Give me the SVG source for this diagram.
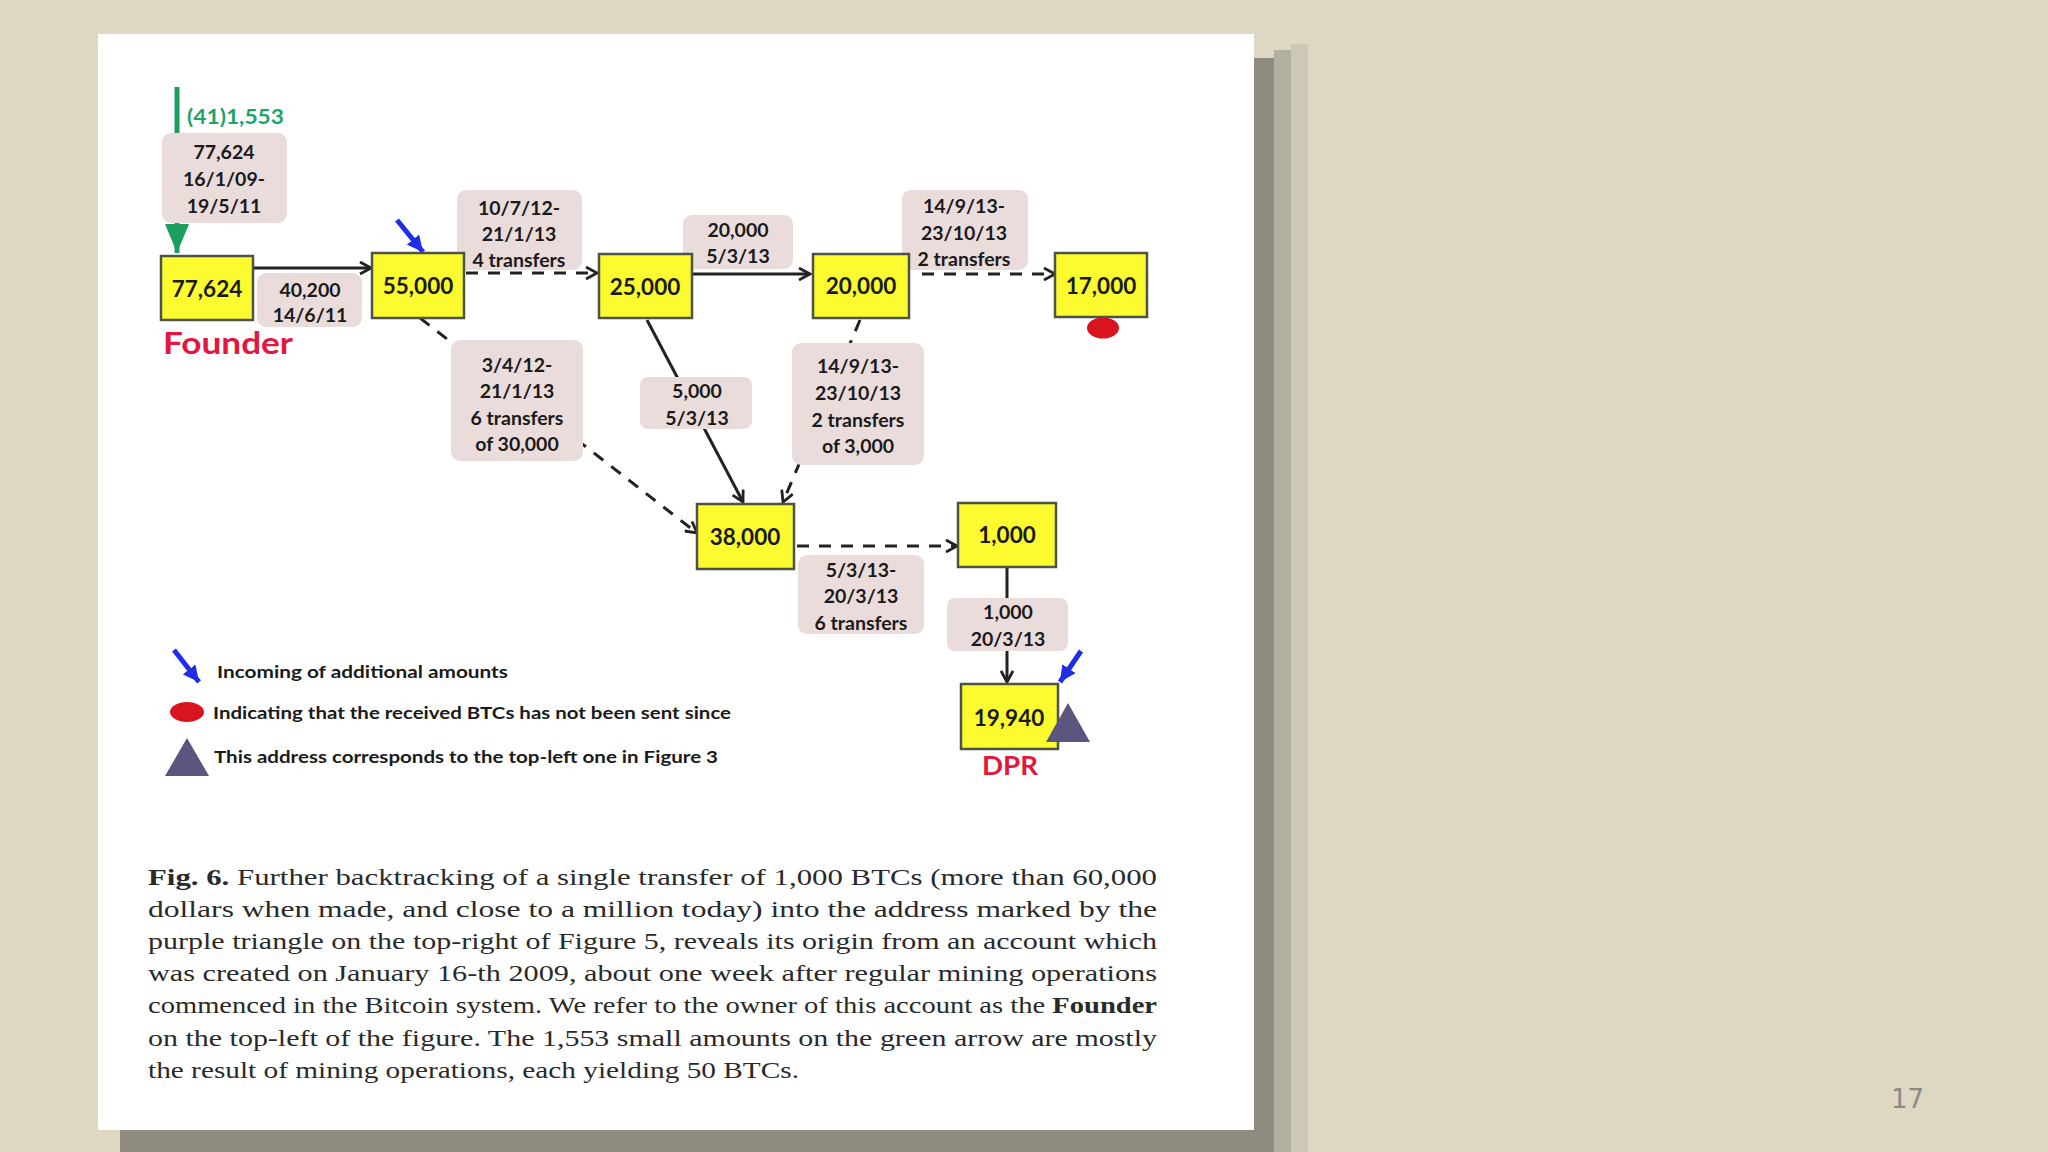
<svg xmlns="http://www.w3.org/2000/svg" width="2048" height="1152" viewBox="0 0 2048 1152">
<style>
.nd{fill:#fbfb30;stroke:#4d5347;stroke-width:2.5}
.nt{font-family:Lato,"Liberation Sans",sans-serif;font-weight:700;font-size:22.5px;fill:#1a1a1a;text-anchor:middle}
.lb{fill:#ebdcdc}
.lt{font-family:Lato,"Liberation Sans",sans-serif;font-weight:700;font-size:19.5px;fill:#1a1a1a;text-anchor:middle}
.sol{fill:none;stroke:#222;stroke-width:3;marker-end:url(#open)}
.dsh{fill:none;stroke:#222;stroke-width:3;stroke-dasharray:12 10;marker-end:url(#open)}
.blu{fill:none;stroke:#1f2ee6;stroke-width:5;marker-end:url(#bluehead)}
.red{font-family:Lato,"Liberation Sans",sans-serif;font-weight:700;fill:#e3173e}
.lg{font-family:Lato,"Liberation Sans",sans-serif;font-weight:700;font-size:17px;fill:#1a1a1a}
.cap{font-family:"Liberation Serif",serif;font-size:24px;fill:#2a2a2a}
</style>
<defs>
<marker id="open" viewBox="0 0 14 14" refX="12" refY="7" markerWidth="14" markerHeight="14" markerUnits="userSpaceOnUse" orient="auto">
<path d="M1,1 L12,7 L1,13" fill="none" stroke="#222" stroke-width="2.8"/>
</marker>
<marker id="greenhead" viewBox="0 0 29 24" refX="29" refY="12" markerWidth="29" markerHeight="24" markerUnits="userSpaceOnUse" orient="auto">
<path d="M0,0 L29,12 L0,24 z" fill="#1c9f5e"/>
</marker>
<marker id="bluehead" viewBox="0 0 16 16" refX="16" refY="8" markerWidth="16" markerHeight="16" markerUnits="userSpaceOnUse" orient="auto">
<path d="M0,0 L16,8 L0,16 z" fill="#1f2ee6"/>
</marker>
</defs>

<rect x="0" y="0" width="2048" height="1152" fill="#ddd7c4"/>
<!-- panel shadow -->
<rect x="1291" y="44" width="17" height="1108" fill="#ccc8b6"/>
<rect x="1274" y="50" width="17" height="1102" fill="#b3b0a0"/>
<rect x="1254" y="58" width="20" height="1094" fill="#8f8c7f"/>
<rect x="120" y="1130" width="1134" height="22" fill="#8f8c7f"/>
<rect x="98" y="34" width="1156" height="1096" fill="#ffffff"/>

<text x="1891" y="1108" font-family="'DejaVu Sans',sans-serif" font-size="26" fill="#8c8a80">17</text>

<!-- connectors -->
<g id="connectors">
<line x1="177" y1="87" x2="177" y2="253" stroke="#1c9f5e" stroke-width="5" marker-end="url(#greenhead)"/>
<line class="sol" x1="253" y1="268" x2="371" y2="268"/>
<line class="dsh" x1="466" y1="273" x2="597" y2="273"/>
<line class="sol" x1="692" y1="274" x2="810" y2="274"/>
<line class="dsh" x1="922" y1="274" x2="1055" y2="274"/>
<line class="dsh" x1="420" y1="318" x2="697" y2="533"/>
<line class="sol" x1="647" y1="320" x2="743" y2="502"/>
<line class="dsh" x1="860" y1="320" x2="783" y2="502"/>
<line class="dsh" x1="797" y1="546" x2="957" y2="546"/>
<line class="sol" x1="1007" y1="567" x2="1007" y2="682"/>
<line class="blu" x1="397" y1="220" x2="423" y2="252"/>
<line class="blu" x1="1081" y1="651" x2="1060" y2="682"/>
</g>

<!-- connector labels -->
<g id="labels">
<rect class="lb" x="162" y="133" width="125" height="90" rx="9"/>
<text class="lt" x="224" y="159">77,624</text>
<text class="lt" x="224" y="186">16/1/09-</text>
<text class="lt" x="224" y="213">19/5/11</text>

<rect class="lb" x="257" y="273" width="105" height="54" rx="9"/>
<text class="lt" x="310" y="297">40,200</text>
<text class="lt" x="310" y="322">14/6/11</text>

<rect class="lb" x="457" y="190" width="125" height="80" rx="9"/>
<text class="lt" x="519" y="215">10/7/12-</text>
<text class="lt" x="519" y="241">21/1/13</text>
<text class="lt" x="519" y="267">4 transfers</text>

<rect class="lb" x="683" y="215" width="110" height="54" rx="9"/>
<text class="lt" x="738" y="237">20,000</text>
<text class="lt" x="738" y="263">5/3/13</text>

<rect class="lb" x="902" y="190" width="126" height="80" rx="9"/>
<text class="lt" x="964" y="213">14/9/13-</text>
<text class="lt" x="964" y="240">23/10/13</text>
<text class="lt" x="964" y="266">2 transfers</text>

<rect class="lb" x="451" y="340" width="132" height="121" rx="9"/>
<text class="lt" x="517" y="372">3/4/12-</text>
<text class="lt" x="517" y="398">21/1/13</text>
<text class="lt" x="517" y="425">6 transfers</text>
<text class="lt" x="517" y="451">of 30,000</text>

<rect class="lb" x="640" y="377" width="112" height="52" rx="8"/>
<text class="lt" x="697" y="398">5,000</text>
<text class="lt" x="697" y="425">5/3/13</text>

<rect class="lb" x="792" y="343" width="132" height="122" rx="9"/>
<text class="lt" x="858" y="373">14/9/13-</text>
<text class="lt" x="858" y="400">23/10/13</text>
<text class="lt" x="858" y="427">2 transfers</text>
<text class="lt" x="858" y="453">of 3,000</text>

<rect class="lb" x="798" y="555" width="126" height="79" rx="9"/>
<text class="lt" x="861" y="577">5/3/13-</text>
<text class="lt" x="861" y="603">20/3/13</text>
<text class="lt" x="861" y="630">6 transfers</text>

<rect class="lb" x="947" y="598" width="121" height="53" rx="8"/>
<text class="lt" x="1008" y="619">1,000</text>
<text class="lt" x="1008" y="646">20/3/13</text>

<text x="187" y="124" font-family="Lato,'Liberation Sans',sans-serif" font-weight="700" font-size="21" fill="#1fa468" textLength="97" lengthAdjust="spacingAndGlyphs">(41)1,553</text>
</g>

<!-- nodes -->
<g id="n77624"><rect class="nd" x="161" y="256" width="92" height="64"/><text class="nt" x="207" y="297">77,624</text></g>
<g id="n55000"><rect class="nd" x="372" y="253" width="92" height="65"/><text class="nt" x="418" y="294">55,000</text></g>
<g id="n25000"><rect class="nd" x="599" y="254" width="93" height="64"/><text class="nt" x="645" y="295">25,000</text></g>
<g id="n20000"><rect class="nd" x="813" y="254" width="96" height="64"/><text class="nt" x="861" y="294">20,000</text></g>
<g id="n17000"><rect class="nd" x="1055" y="253" width="92" height="64"/><text class="nt" x="1101" y="294">17,000</text>
<ellipse cx="1103" cy="328" rx="16" ry="10.5" fill="#d8141e"/></g>
<g id="n38000"><rect class="nd" x="697" y="504" width="97" height="65"/><text class="nt" x="745" y="545">38,000</text></g>
<g id="n1000"><rect class="nd" x="958" y="503" width="98" height="64"/><text class="nt" x="1007" y="543">1,000</text></g>
<g id="n19940"><rect class="nd" x="961" y="684" width="97" height="65"/><text class="nt" x="1009" y="726">19,940</text>
<polygon points="1068,703 1090,742 1046,742" fill="#5a5680"/></g>

<g id="founder"><text class="red" x="163" y="354" font-size="30" textLength="130" lengthAdjust="spacingAndGlyphs">Founder</text></g>
<g id="dpr"><text class="red" x="982" y="775" font-size="27" textLength="56" lengthAdjust="spacingAndGlyphs">DPR</text></g>

<!-- legend -->
<g id="legend">
<line class="blu" x1="174" y1="650" x2="199" y2="682"/>
<text class="lg" x="217" y="678" textLength="291" lengthAdjust="spacingAndGlyphs">Incoming of additional amounts</text>
<ellipse cx="187" cy="712" rx="17" ry="10" fill="#d8141e"/>
<text class="lg" x="213" y="719" textLength="518" lengthAdjust="spacingAndGlyphs">Indicating that the received BTCs has not been sent since</text>
<polygon points="187,738 209,776 165,776" fill="#5a5680"/>
<text class="lg" x="214" y="763" textLength="504" lengthAdjust="spacingAndGlyphs">This address corresponds to the top-left one in Figure 3</text>
</g>

<!-- caption -->
<g id="caption">
<text class="cap" x="148" y="885" textLength="1009" lengthAdjust="spacingAndGlyphs"><tspan font-weight="700">Fig. 6.</tspan> Further backtracking of a single transfer of 1,000 BTCs (more than 60,000</text>
<text class="cap" x="148" y="917" textLength="1009" lengthAdjust="spacingAndGlyphs">dollars when made, and close to a million today) into the address marked by the</text>
<text class="cap" x="148" y="949" textLength="1009" lengthAdjust="spacingAndGlyphs">purple triangle on the top-right of Figure 5, reveals its origin from an account which</text>
<text class="cap" x="148" y="981" textLength="1009" lengthAdjust="spacingAndGlyphs">was created on January 16-th 2009, about one week after regular mining operations</text>
<text class="cap" x="148" y="1013" textLength="1009" lengthAdjust="spacingAndGlyphs">commenced in the Bitcoin system. We refer to the owner of this account as the <tspan font-weight="700">Founder</tspan></text>
<text class="cap" x="148" y="1045.5" textLength="1009" lengthAdjust="spacingAndGlyphs">on the top-left of the figure. The 1,553 small amounts on the green arrow are mostly</text>
<text class="cap" x="148" y="1077.5" textLength="651" lengthAdjust="spacingAndGlyphs">the result of mining operations, each yielding 50 BTCs.</text>
</g>
</svg>
